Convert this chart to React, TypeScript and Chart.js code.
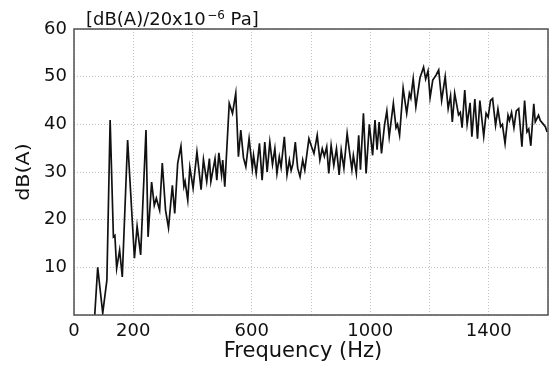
import React, { useEffect, useRef } from "react";
import { Chart, registerables } from "chart.js";

Chart.register(...registerables);

// Frequency of each vertex of the spectrum line (Hz)
const freqsHz = [
  68, 80, 97, 111, 122, 133, 138, 144, 154, 163,
  181, 204, 213, 225, 243, 250, 262, 271, 278, 289,
  298, 309, 319, 332, 340, 350, 361, 371, 375, 384,
  391, 402, 415, 429, 437, 448, 457, 462, 476, 482,
  489, 498, 502, 509, 524, 535, 546, 555, 563, 572,
  580, 591, 602, 606, 615, 626, 635, 644, 652, 661,
  670, 678, 685, 693, 699, 710, 719, 727, 733, 739,
  747, 755, 763, 772, 779, 793, 802, 810, 821, 830,
  838, 845, 853, 860, 868, 877, 886, 895, 902, 911,
  922, 933, 938, 943, 953, 961, 967, 977, 986, 997,
  1008, 1016, 1023, 1030, 1038, 1048, 1056, 1064, 1078, 1087,
  1092, 1099, 1111, 1123, 1132, 1137, 1145, 1154, 1168, 1180,
  1187, 1195, 1202, 1211, 1222, 1231, 1241, 1253, 1263, 1271,
  1277, 1285, 1298, 1304, 1310, 1319, 1327, 1337, 1343, 1353,
  1362, 1370, 1383, 1391, 1398, 1406, 1413, 1423, 1431, 1440,
  1446, 1455, 1465, 1470, 1477, 1485, 1493, 1501, 1512, 1521,
  1529, 1535, 1542, 1552, 1557, 1568, 1574, 1582, 1591, 1597,
];

// Sound level at each vertex, dB(A)
const levelsDbA = [
  -2, 10, 0.4, 7.3, 40.9, 16.4, 16.7, 9.8, 13.6, 8.0,
  36.7, 11.9, 18.6, 12.6, 38.8, 16.4, 27.9, 23, 24.5, 22,
  31.9, 22, 18.3, 27.2, 21.3, 31.8, 35.4, 27, 28, 24.1,
  31, 26.6, 34.2, 26.3, 32.6, 28, 32.8, 28, 32.8, 28.3,
  34, 29.4, 32.5, 26.9, 44.4, 42.3, 46.5, 33.2, 38.8, 33,
  31.1, 37, 30.8, 33.5, 29.7, 36, 28.3, 36.3, 30, 36.3,
  31.6, 34.9, 29.7, 33.2, 31, 37.4, 29.4, 32.5, 30.3, 31.7,
  36.3, 30.8, 29, 32.5, 30.4, 37, 35.3, 33.9, 37.7, 32.5,
  34.9, 33.3, 35.3, 29.7, 35.6, 31.4, 34.9, 29.4, 34.6, 30.8,
  38.1, 32.8, 30.5, 33.5, 29.7, 37.7, 30.5, 42.3, 29.7, 40,
  33.5, 40.9, 34.7, 40.5, 33.9, 39.8, 42.8, 37.4, 44.4, 39.3,
  40, 37.7, 47.6, 42.3, 46.5, 45.5, 49.6, 43.7, 49.8, 52,
  49.5, 51.2, 45.6, 49.3, 50.3, 51.4, 45, 50, 43.3, 46,
  40.5, 46.5, 42, 42.5, 39.3, 47.2, 40, 44.5, 37.4, 45.3,
  37, 45, 37.5, 42.3, 41.5, 45, 45.4, 39.8, 43.2, 39.5,
  40, 36, 41.9, 40.8, 42.5, 39.3, 42.8, 43.3, 35.3, 45,
  38.4, 39, 35.5, 44.3, 40.5, 41.9, 40.8, 40.2, 39.5, 38.4,
];

const xMin = 0;
const xMax = 1600;
const xStep = 200;
const xLabelledTicks = [0, 200, 600, 1000, 1400];
const yMin = 0;
const yMax = 60;
const yStep = 10;

const titleMain = "[dB(A)/20x10";
const titleSup = "\u22126";
const titleEnd = " Pa]";
const xTitle = "Frequency (Hz)";
const yTitle = "dB(A)";

const FONT = '"DejaVu Sans", sans-serif';

export default function App() {
  const ref = useRef<HTMLCanvasElement>(null);

  useEffect(() => {
    const canvas = ref.current;
    if (!canvas) return;

    const textPlugin = {
      id: "chartTexts",
      afterDraw(chart: any) {
        const ctx = chart.ctx as CanvasRenderingContext2D;
        const a = chart.chartArea;
        ctx.save();
        // frame
        ctx.strokeStyle = "#505050";
        ctx.lineWidth = 1.5;
        ctx.strokeRect(a.left, a.top, a.right - a.left, a.bottom - a.top);

        ctx.fillStyle = "#111";
        ctx.textBaseline = "alphabetic";
        ctx.textAlign = "left";
        // unit title with superscript
        let x = 86;
        ctx.font = `18px ${FONT}`;
        ctx.fillText(titleMain, x, 25);
        x += ctx.measureText(titleMain).width + 1.5;
        ctx.font = `12px ${FONT}`;
        ctx.fillText(titleSup, x, 19);
        x += ctx.measureText(titleSup).width;
        ctx.font = `18px ${FONT}`;
        ctx.fillText(titleEnd, x, 25);

        // x axis title
        ctx.textAlign = "center";
        ctx.font = `21px ${FONT}`;
        ctx.fillText(xTitle, 303, 357);

        // y axis title
        ctx.save();
        ctx.translate(28.5, (a.top + a.bottom) / 2);
        ctx.rotate(-Math.PI / 2);
        ctx.scale(1.15, 1);
        ctx.font = `18px ${FONT}`;
        ctx.textAlign = "center";
        ctx.fillText(yTitle, 0, 0);
        ctx.restore();

        ctx.restore();
      },
    };

    const chart = new Chart(canvas, {
      type: "line",
      data: {
        datasets: [
          {
            data: freqsHz.map((f, i) => ({ x: f, y: levelsDbA[i] })),
            borderColor: "#111",
            borderWidth: 1.7,
            pointRadius: 0,
            tension: 0,
            fill: false,
          },
        ],
      },
      options: {
        responsive: false,
        animation: false,
        events: [],
        layout: { padding: { top: 29, right: 1, left: 0, bottom: 0 } },
        plugins: {
          legend: { display: false },
          tooltip: { enabled: false },
          title: { display: false },
        },
        scales: {
          x: {
            type: "linear",
            min: xMin,
            max: xMax,
            afterFit: (s: any) => {
              s.height = 56;
            },
            ticks: {
              stepSize: xStep,
              autoSkip: false,
              maxRotation: 0,
              padding: 6,
              color: "#111",
              font: { family: FONT, size: 18 },
              callback: (v: any) => (xLabelledTicks.includes(Number(v)) ? String(v) : ""),
            },
            grid: { color: "#c2c2c2", drawTicks: false, lineWidth: 1 },
            border: { display: false, dash: [1, 2] },
          },
          y: {
            type: "linear",
            min: yMin,
            max: yMax,
            afterFit: (s: any) => {
              s.width = 74;
            },
            ticks: {
              stepSize: yStep,
              padding: 7,
              color: "#111",
              font: { family: FONT, size: 18 },
              callback: (v: any) => (Number(v) === 0 ? "" : String(v)),
            },
            grid: { color: "#c2c2c2", drawTicks: false, lineWidth: 1 },
            border: { display: false, dash: [1, 2] },
          },
        },
      },
      plugins: [textPlugin],
    });

    return () => chart.destroy();
  }, []);

  return (
    <div style={{ position: "absolute", left: 0, top: 0, width: 554, height: 371, background: "#fff" }}>
      <canvas ref={ref} width={554} height={371} style={{ display: "block" }} />
    </div>
  );
}
